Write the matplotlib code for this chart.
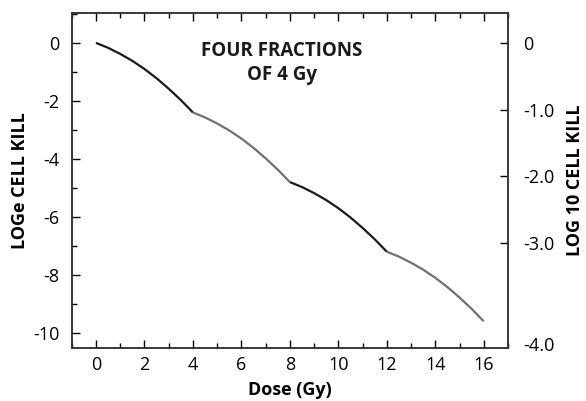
import numpy as np
import matplotlib
matplotlib.use("Agg")
import matplotlib.pyplot as plt
from matplotlib.ticker import MultipleLocator

plt.rcParams['font.family'] = ['Open Sans', 'DejaVu Sans']
plt.rcParams['axes.unicode_minus'] = False

# dose (Gy) and log_e cell kill
dose = [0, 0.5, 1, 1.5, 2, 2.5, 3, 3.5, 4,
        4.5, 5, 5.5, 6, 6.5, 7, 7.5, 8,
        8.5, 9, 9.5, 10, 10.5, 11, 11.5, 12,
        12.5, 13, 13.5, 14, 14.5, 15, 15.5, 16]
loge_kill = [0, -0.17, -0.38, -0.62, -0.90, -1.22, -1.58, -1.97, -2.40,
             -2.57, -2.78, -3.02, -3.30, -3.62, -3.98, -4.37, -4.80,
             -4.97, -5.18, -5.42, -5.70, -6.02, -6.38, -6.77, -7.20,
             -7.37, -7.58, -7.82, -8.10, -8.42, -8.78, -9.17, -9.60]
fraction_colors = ["#1a1a1a", "#707070", "#1a1a1a", "#707070"]
pts_per_fraction = 8

x_ticks = [0, 2, 4, 6, 8, 10, 12, 14, 16]
y_ticks = [0, -2, -4, -6, -8, -10]
log10_ticks = [0, -1.0, -2.0, -3.0]
log10_labels = ["0", "-1.0", "-2.0", "-3.0"]

fig = plt.figure(figsize=(5.86, 4.01), dpi=100)
ax = fig.add_axes([0.1224, 0.1322, 0.7445, 0.8354])

d = np.array(dose)
k = np.array(loge_kill)
for i, c in enumerate(fraction_colors):
    s = slice(i * pts_per_fraction, (i + 1) * pts_per_fraction + 1)
    ax.plot(d[s], k[s], color=c, lw=1.6, solid_capstyle='butt')

ax.set_xlim(-1, 17)
ax.set_ylim(-10.52, 1.03)
ax.set_xticks(x_ticks)
ax.set_yticks(y_ticks)
ax.xaxis.set_minor_locator(MultipleLocator(1))
ax.yaxis.set_minor_locator(MultipleLocator(1))
ax.tick_params(axis='x', which='both', direction='in', top=True, bottom=True,
               labelsize=13, pad=6, width=1)
ax.tick_params(axis='y', which='both', direction='in', left=True, right=False,
               labelsize=13, pad=9, width=1)
ax.tick_params(which='major', length=6)
ax.tick_params(which='minor', length=3.5)
for sp in ax.spines.values():
    sp.set_linewidth(1.1)
    sp.set_color("#333333")

ax.set_xlabel("Dose (Gy)", fontsize=13, fontweight='bold', labelpad=5)
ax.set_ylabel("LOGe CELL KILL", fontsize=13, fontweight='bold', labelpad=3)

ax2 = ax.twinx()
ax2.set_ylim(ax.get_ylim())
ax2.set_yticks([v * np.log(10) for v in log10_ticks] + [-10.38])
ax2.set_yticklabels(log10_labels + ["-4.0"])
ax2.tick_params(axis='y', direction='in', length=6, width=1, labelsize=13, pad=11)
ax2.yaxis.get_major_ticks()[-1].tick2line.set_visible(False)
ax2.set_ylabel("LOG 10 CELL KILL", fontsize=13, fontweight='bold', labelpad=8)
for sp in ax2.spines.values():
    sp.set_linewidth(1.1)
    sp.set_color("#333333")

ax.text(0.482, 0.851, "FOUR FRACTIONS\nOF 4 Gy", transform=ax.transAxes,
        ha='center', va='center', fontsize=13.5, fontweight='bold',
        linespacing=1.25, color="#1a1a1a")

fig.savefig("out.png", dpi=100)
